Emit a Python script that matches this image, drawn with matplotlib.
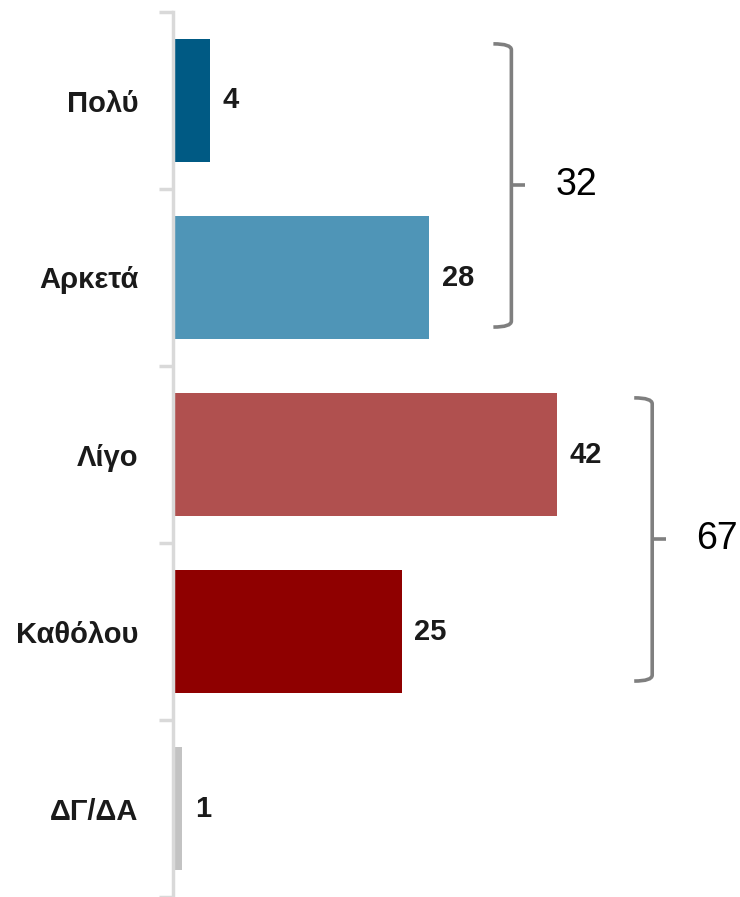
import matplotlib
matplotlib.use("Agg")
import matplotlib.pyplot as plt
from matplotlib.path import Path
from matplotlib.patches import PathPatch
from matplotlib.ticker import FixedLocator

categories = ["Πολύ", "Αρκετά", "Λίγο", "Καθόλου", "ΔΓ/ΔΑ"]
values = [4, 28, 42, 25, 1]
colors = ["#005A84", "#4F95B7", "#B0504F", "#8F0000", "#C3C3C3"]
groups = [(0, 1), (2, 3)]

FONT = ["Liberation Sans", "DejaVu Sans"]
plt.rcParams["font.family"] = FONT

fig = plt.figure(figsize=(7.40, 8.97), dpi=100)
ax = fig.add_axes([173 / 740, 0.0, 1 - 173 / 740, 1 - 12 / 897])

pos = list(range(len(categories)))
ax.barh(pos, values, height=0.69, color=colors, zorder=2)
ax.set_xlim(0, 62)
ax.set_ylim(len(categories) - 0.5, -0.5)

for s in ["top", "right", "bottom"]:
    ax.spines[s].set_visible(False)
ax.spines["left"].set_color("#D9D9D9")
ax.spines["left"].set_linewidth(2.5)
ax.spines["left"].set_zorder(3)
ax.set_xticks([])

ax.yaxis.set_major_locator(FixedLocator([p - 0.5 for p in pos] + [len(pos) - 0.5]))
ax.yaxis.set_major_formatter(plt.NullFormatter())
ax.tick_params(axis="y", which="major", length=10, width=2.5, color="#D9D9D9")
ax.set_yticks(pos, minor=True)
ax.set_yticklabels(categories, minor=True, fontsize=21, fontweight="bold", color="#1a1a1a")
ax.tick_params(axis="y", which="minor", length=0, pad=25)

for p, v in zip(pos, values):
    ax.text(v + 1.4, p, str(v), va="center", ha="left", fontsize=21,
            fontweight="bold", color="#1a1a1a")

# brackets
px_x = 9.15      # px per data unit in x
px_y = 177.0     # px per category in y
bracket_x = [37.0, 52.4]
for (i0, i1), bx in zip(groups, bracket_x):
    top = i0 - 0.32
    bot = i1 + 0.28
    mid = (top + bot) / 2
    hook = 18 / px_x
    nub = 14 / px_x
    ry = 6 / px_y
    verts = [
        (bx - hook, top), (bx, top), (bx, top + ry),
        (bx, mid),
        (bx, bot - ry), (bx, bot), (bx - hook, bot),
    ]
    codes = [Path.MOVETO, Path.CURVE3, Path.CURVE3, Path.LINETO,
             Path.LINETO, Path.CURVE3, Path.CURVE3]
    ax.add_patch(PathPatch(Path(verts, codes), fill=False, edgecolor="#7F7F7F",
                           linewidth=2.6, clip_on=False, capstyle="butt"))
    ax.plot([bx, bx + nub], [mid, mid], color="#7F7F7F", linewidth=2.6,
            clip_on=False, solid_capstyle="butt")
    total = sum(values[i0:i1 + 1])
    ax.text(bx + 44 / px_x, mid, str(total), va="center", ha="left",
            fontsize=27, color="black")

fig.savefig("out.png", dpi=100)
